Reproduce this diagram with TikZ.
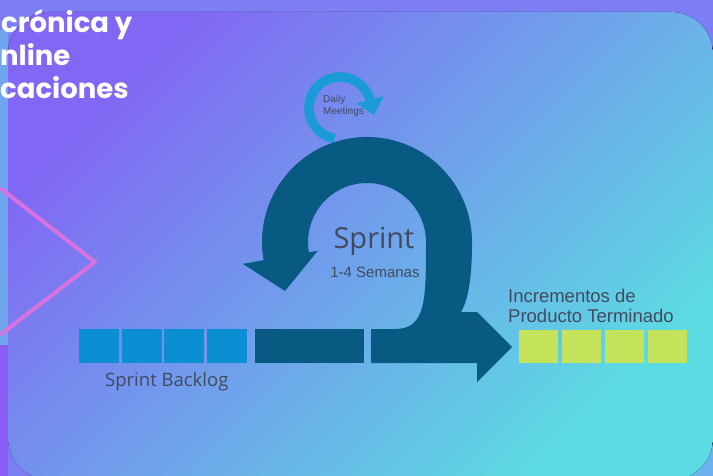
\documentclass[tikz,border=0pt]{standalone}
\usepackage{fontspec}
\newfontfamily\headfont{Poppins}
\newfontfamily\labelfont{Open Sans}
\newfontfamily\arialfont{Liberation Sans}
\usepackage{tikz}
\usetikzlibrary{positioning}
\definecolor{bgback}{HTML}{7D7EF4}
\definecolor{bgpurple}{HTML}{8A5DF6}
\definecolor{bgcorner}{HTML}{6CB0EE}
\definecolor{stripblue}{HTML}{6FA6EE}
\definecolor{panelA}{HTML}{8266F4}
\definecolor{panelB}{HTML}{6FA8EE}
\definecolor{panelC}{HTML}{5CDCE2}
\definecolor{chevronpink}{HTML}{D772E0}
\definecolor{sprintdark}{HTML}{085A82}
\definecolor{backlogblue}{HTML}{0B8FD2}
\definecolor{dailyblue}{HTML}{1A9BD7}
\definecolor{donegreen}{HTML}{C4E35A}
\definecolor{labelgrey}{HTML}{414B60}

\begin{document}
\begin{tikzpicture}[x=1pt,y=-1pt,
  backlogbox/.style={fill=backlogblue, inner sep=0pt, minimum width=40pt, minimum height=34pt},
  donebox/.style={fill=donegreen, inner sep=0pt, minimum width=39pt, minimum height=33pt},
  lbl/.style={text=labelgrey, inner sep=0pt},
  headline/.style={text=white, inner sep=0pt, font=\headfont\bfseries\fontsize{27.5}{33}\selectfont}]
\useasboundingbox (0,0) rectangle (713,476);
\clip (0,0) rectangle (713,476);
% background and panel
\fill[bgback] (0,0) rectangle (713,476);
\fill[bgcorner] (640,400) rectangle (713,476);
\fill[bgpurple] (0,345) rectangle (8,476);
\fill[stripblue] (0,30) rectangle (8,345);
\fill[top color=panelA, middle color=panelB, bottom color=panelC, shading angle=45, rounded corners=42pt] (8,12) rectangle (713,480);
\draw[chevronpink, line width=4pt, line join=round] (0,188) -- (95,262) -- (0,335);
% heading
\node[headline, anchor=base west] (head1) at (1,33) {crónica y};
\node[headline, anchor=base west] (head2) at (0,66) {nline};
\node[headline, anchor=base west] (head3) at (0,99) {caciones};
% backlog
\foreach \i in {0,...,3} {
\node[backlogbox] (bl\i) at (99+42.7*\i,346) {};
}
\node[fill=sprintdark, inner sep=0pt, minimum width=109pt, minimum height=34pt] (wip) at (309.5,346) {};
% daily loop
\draw[dailyblue, line width=9.5pt] (334.6,138.5) arc[start angle=100, end angle=345, radius=31];
\fill[dailyblue] (356.5,103.5) -- (383.5,96.3) -- (374,115) -- cycle;
% sprint loop
\fill[sprintdark] (263.6,260.2) arc[start angle=170, end angle=360, radius=105]
  .. controls (472,280) and (468,300) .. (461,312)
  -- (477,312) -- (512,347) -- (477,382) -- (477,363) -- (371,363) -- (371,329)
  -- (395,329) .. controls (426,329) and (426,300) .. (426,242)
  arc[start angle=360, end angle=170, radius=59]
  -- (317.8,250.7) -- (285,291) -- (242.9,263.9) -- cycle;
% increments
\foreach \i in {0,...,3} {
\node[donebox] (inc\i) at (538.5+43*\i,346.5) {};
}
% labels
\node[lbl, anchor=base west, font=\arialfont\fontsize{10}{12}\selectfont] (daily1) at (323,103) {Daily};
\node[lbl, anchor=base west, font=\arialfont\fontsize{10}{12}\selectfont] (daily2) at (323,115) {Meetings};
\node[lbl, anchor=base, font=\labelfont\fontsize{29}{33}\selectfont] (sprint) at (374,249) {Sprint};
\node[lbl, anchor=base, font=\arialfont\fontsize{15}{18}\selectfont] (weeks) at (375,277) {1-4 Semanas};
\node[lbl, anchor=base west, font=\labelfont\fontsize{18.5}{22}\selectfont] (backlog) at (105,386) {Sprint Backlog};
\node[lbl, anchor=base west, font=\arialfont\fontsize{18.5}{20}\selectfont] (incr1) at (508,302) {Incrementos de};
\node[lbl, anchor=base west, font=\arialfont\fontsize{18.5}{20}\selectfont] (incr2) at (508,322) {Producto Terminado};
\end{tikzpicture}
\end{document}
